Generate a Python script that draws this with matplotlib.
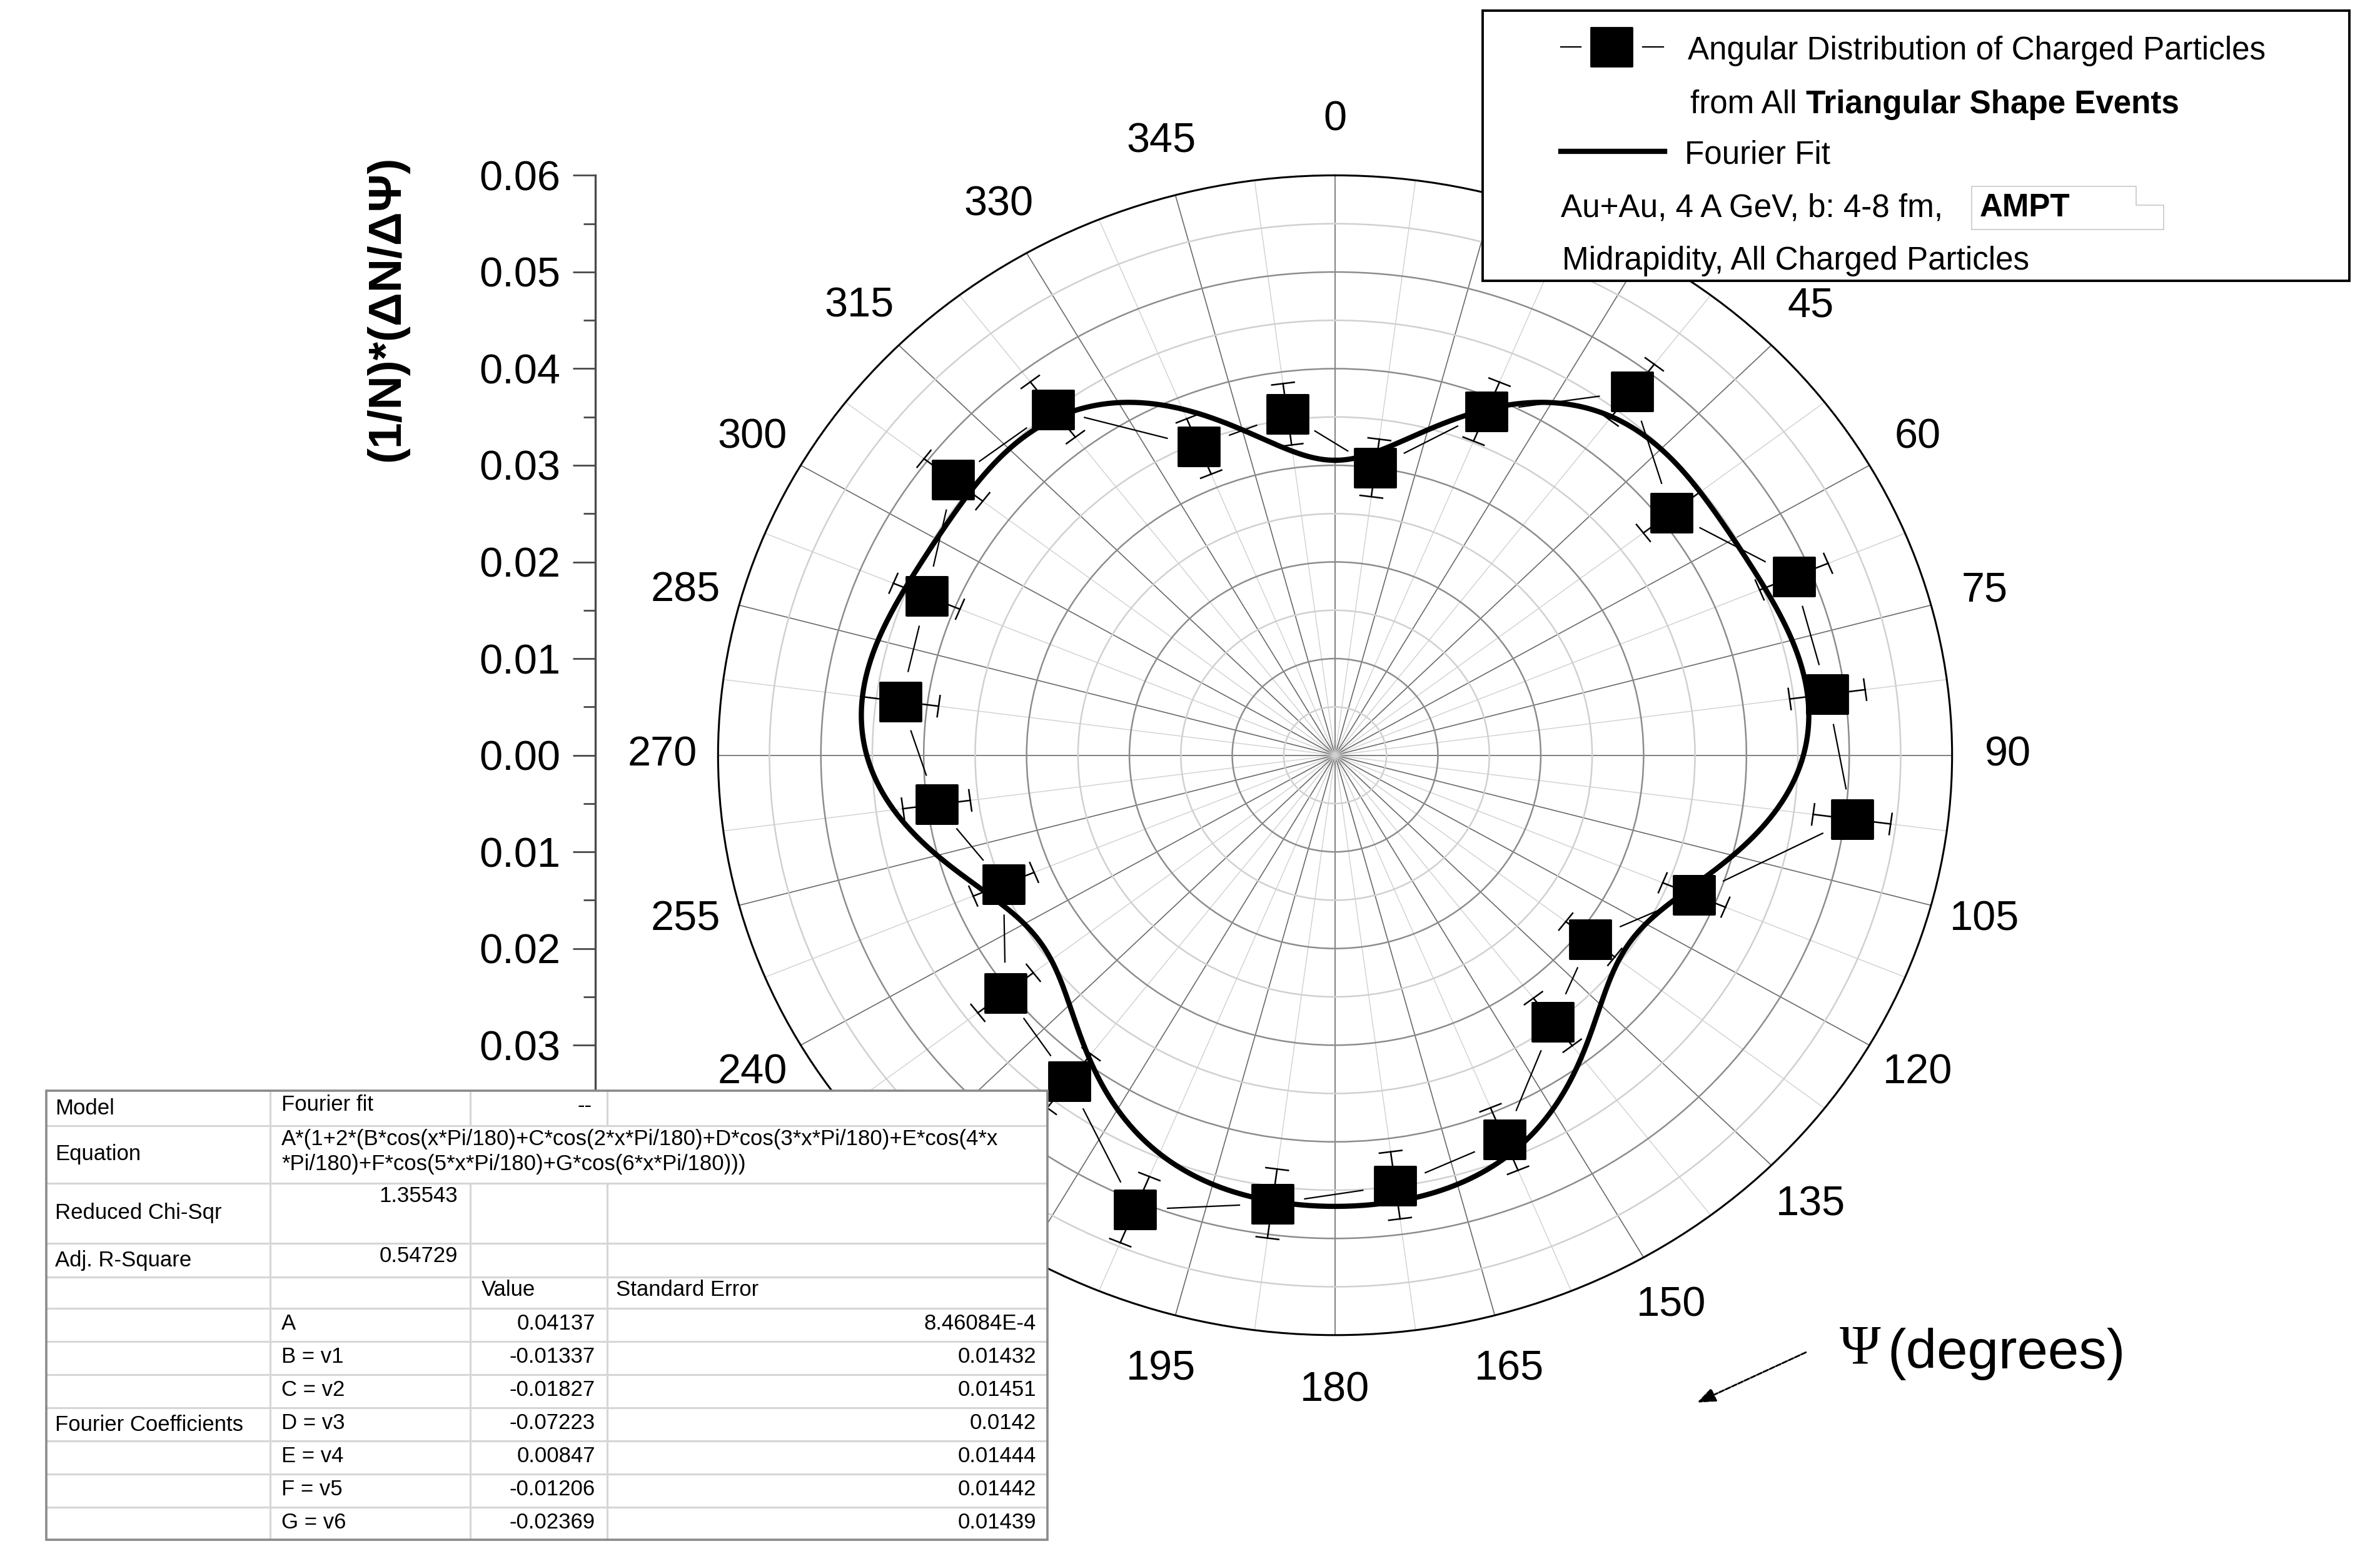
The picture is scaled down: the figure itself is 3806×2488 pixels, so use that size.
import numpy as np
import matplotlib
matplotlib.use("Agg")
import matplotlib.pyplot as plt
from matplotlib.ticker import FixedLocator, FuncFormatter
from matplotlib.path import Path
from matplotlib.patches import Rectangle

plt.rcParams['font.family'] = ['Liberation Sans', 'DejaVu Sans']

# ---------------- data ----------------
psi_deg = [7.5, 22.5, 37.5, 52.5, 67.5, 82.5, 97.5, 112.5, 127.5, 142.5, 157.5, 172.5,
           187.5, 202.5, 217.5, 232.5, 247.5, 262.5, 277.5, 292.5, 307.5, 322.5, 337.5, 352.5]
dist = [0.0300, 0.0385, 0.0474, 0.0412, 0.0483, 0.0483, 0.0507, 0.0378, 0.0313, 0.0348, 0.0430, 0.0449,
        0.0468, 0.0509, 0.0425, 0.0404, 0.0349, 0.0391, 0.0426, 0.0430, 0.0468, 0.0451, 0.0346, 0.0356]
dist_err = [0.0030, 0.0033, 0.0036, 0.0034, 0.0036, 0.0037, 0.0038, 0.0033, 0.0030, 0.0031, 0.0035, 0.0035,
            0.0036, 0.0037, 0.0035, 0.0034, 0.0032, 0.0033, 0.0037, 0.0035, 0.0036, 0.0036, 0.0031, 0.0032]

fit_A = 0.04137
fit_coef = [-0.01337, -0.01827, -0.07223, 0.00847, -0.01206, -0.02369]
fit_names = ['A', 'B = v1', 'C = v2', 'D = v3', 'E = v4', 'F = v5', 'G = v6']
fit_values = ['0.04137', '-0.01337', '-0.01827', '-0.07223', '0.00847', '-0.01206', '-0.02369']
fit_errors = ['8.46084E-4', '0.01432', '0.01451', '0.0142', '0.01444', '0.01442', '0.01439']
chi_sqr = '1.35543'
adj_r2 = '0.54729'

theta_tick_deg = list(range(0, 360, 15))
theta_hidden_deg = [30, 210, 225]      # covered by the legend / fit table in the reference
theta_minor_deg = [a + 7.5 for a in range(0, 360, 15)]
r_major = [0.01, 0.02, 0.03, 0.04, 0.05]
r_minor = [0.005, 0.015, 0.025, 0.035, 0.045, 0.055]
r_max = 0.06
left_major = [0.06, 0.05, 0.04, 0.03, 0.02, 0.01, 0.0, -0.01, -0.02, -0.03]
left_minor = [0.055, 0.045, 0.035, 0.025, 0.015, 0.005, -0.005, -0.015, -0.025, -0.035]
left_min = -0.045

# ---------------- figure ----------------
W, H = 3806, 2488
DPI = 200
fig = plt.figure(figsize=(W / DPI, H / DPI), dpi=DPI)

# polar axes (reference is slightly stretched horizontally)
cx, cy = 2135.0, 1207.6
hw, hh = 986.7, 927.2
ax = fig.add_axes([(cx - hw) / W, (H - cy - hh) / H, 2 * hw / W, 2 * hh / H], projection='polar')
ax.set_theta_zero_location('N')
ax.set_theta_direction(-1)
ax.set_ylim(0, r_max)
ax.set_aspect('auto')

ax.set_xticks(np.deg2rad(theta_tick_deg))
ax.set_xticklabels(['' if a in theta_hidden_deg else str(a) for a in theta_tick_deg], fontsize=24)
ax.xaxis.set_minor_locator(FixedLocator(np.deg2rad(theta_minor_deg)))
ax.set_yticks(r_major)
ax.yaxis.set_minor_locator(FixedLocator(r_minor))
ax.set_yticklabels([])
ax.tick_params(axis='y', which='both', length=0)
ax.tick_params(axis='x', which='major', direction='in', length=14, width=1.0, color='black', pad=25)
ax.tick_params(axis='x', which='minor', direction='in', length=8, width=1.0, color='black')
ax.xaxis.grid(True, which='major', color='#6a6a6a', lw=0.6)
ax.xaxis.grid(True, which='minor', color='#d0d0d0', lw=0.5)
ax.yaxis.grid(True, which='major', color='#8c8c8c', lw=0.9)
ax.yaxis.grid(True, which='minor', color='#d0d0d0', lw=0.9)
ax.spines['polar'].set_color('black')
ax.spines['polar'].set_linewidth(1.1)

th = np.deg2rad(psi_deg)
r = np.array(dist)
e = np.array(dist_err)

# Fourier fit curve (coefficients from the fit table)
tf = np.linspace(0, 2 * np.pi, 1441)
s = np.zeros_like(tf)
for n, c in enumerate(fit_coef, start=1):
    s += c * np.cos(n * tf)
rf = fit_A * (1 + 2 * s)
ax.plot(tf, rf, color='black', lw=3.0, zorder=4, solid_joinstyle='round')

# connecting line with gaps near symbols
gap = 0.0032
xs = r * np.sin(th)
ys = r * np.cos(th)
n_pts = len(th)
for i in range(n_pts):
    j = (i + 1) % n_pts
    dx, dy = xs[j] - xs[i], ys[j] - ys[i]
    d = np.hypot(dx, dy)
    if d <= 2 * gap:
        continue
    x0, y0 = xs[i] + dx * gap / d, ys[i] + dy * gap / d
    x1, y1 = xs[j] - dx * gap / d, ys[j] - dy * gap / d
    ax.plot([np.arctan2(x0, y0), np.arctan2(x1, y1)], [np.hypot(x0, y0), np.hypot(x1, y1)],
            color='black', lw=0.8, zorder=3)

# radial error bars with tangential caps
cap_half = 0.0011
for ti, ri, ei in zip(th, r, e):
    ax.plot([ti, ti], [ri - ei, ri + ei], color='black', lw=0.9, zorder=3)
    for rc in (ri - ei, ri + ei):
        dth = cap_half / rc
        ax.plot([ti - dth, ti + dth], [rc, rc], color='black', lw=0.9, zorder=3)

rect_marker = Path([(-0.54, -0.5), (0.54, -0.5), (0.54, 0.5), (-0.54, 0.5), (-0.54, -0.5)],
                   [Path.MOVETO, Path.LINETO, Path.LINETO, Path.LINETO, Path.CLOSEPOLY])
ax.plot(th, r, linestyle='none', marker=rect_marker, ms=24, color='black', zorder=5)

# ---------------- left linear axis ----------------
ax_bottom_px = cy + hh * (-left_min / r_max)
lax = fig.add_axes([952 / W, (H - ax_bottom_px) / H, 0.0004, (ax_bottom_px - (cy - hh)) / H])
lax.set_ylim(left_min, r_max)
lax.set_xticks([])
for sp in ('right', 'top', 'bottom'):
    lax.spines[sp].set_visible(False)
lax.spines['left'].set_color('#4a4a4a')
lax.spines['left'].set_linewidth(1.2)
lax.yaxis.set_major_locator(FixedLocator(left_major))
lax.yaxis.set_minor_locator(FixedLocator(left_minor))
lax.yaxis.set_major_formatter(FuncFormatter(lambda v, p: f"{abs(v):.2f}"))
lax.tick_params(axis='y', which='major', length=13, width=1.0, color='#4a4a4a', labelsize=24, pad=7)
lax.tick_params(axis='y', which='minor', length=7, width=1.0, color='#4a4a4a')
lax.patch.set_visible(False)

fig.text(619 / W, 1 - 493 / H, '(1/N)*(ΔN/ΔΨ)', rotation=90, ha='center', va='center',
         fontsize=27, fontweight='bold')

# ---------------- overlay (legend, table, annotations) ----------------
ov = fig.add_axes([0, 0, 1, 1], zorder=10)
ov.set_xlim(0, W)
ov.set_ylim(H, 0)
ov.axis('off')
ov.patch.set_visible(False)

# legend box
ov.add_patch(Rectangle((2371, 17), 1386, 432, facecolor='white', edgecolor='black', lw=1.4, zorder=1))
ov.plot([2496, 2528], [75, 75], color='black', lw=0.8, zorder=2)
ov.plot([2627, 2660], [75, 75], color='black', lw=0.8, zorder=2)
ov.plot([2577], [75], marker=rect_marker, ms=24, color='black', linestyle='none', zorder=2)
lfs = 18.4
ov.text(2699, 82, 'Angular Distribution of Charged Particles', fontsize=lfs, va='center', ha='left', zorder=2)
t2 = ov.text(2703, 167, 'from All ', fontsize=lfs, va='center', ha='left', zorder=2)
ov.annotate('Triangular Shape Events', xy=(1, 0), xycoords=t2, fontsize=lfs, fontweight='bold',
            va='bottom', ha='left', zorder=2)
ov.plot([2496, 2662], [242, 242], color='black', lw=3.0, zorder=2)
ov.text(2694, 248, 'Fourier Fit', fontsize=lfs, va='center', ha='left', zorder=2)
ov.text(2496, 333, 'Au+Au, 4 A GeV, b: 4-8 fm,', fontsize=lfs, va='center', ha='left', zorder=2)
ov.plot([3153, 3153, 3416, 3416, 3460, 3460, 3153], [367, 298, 298, 328, 328, 367, 367],
        color='#c8c8c8', lw=0.6, zorder=2)
ov.text(3166, 333, 'AMPT', fontsize=lfs, fontweight='bold', va='center', ha='left', zorder=3)
ov.text(2498, 417, 'Midrapidity, All Charged Particles', fontsize=lfs, va='center', ha='left', zorder=2)

# Psi (degrees) label with arrow
ov.text(2975, 2158, 'Ψ', fontsize=32, family=['Liberation Serif', 'DejaVu Serif'],
        ha='center', va='center', zorder=2)
ov.text(3018, 2165, '(degrees)', fontsize=32, ha='left', va='center', zorder=2)
ov.annotate('', xy=(2709, 2245), xytext=(2893, 2160),
            arrowprops=dict(arrowstyle='-|>,head_length=0.9,head_width=0.35', color='black',
                            lw=1.0, linestyle=(0, (3, 1))), zorder=2)

# fit table
cols = [74, 432, 752, 971, 1675]
rows = [1744, 1800, 1892, 1988, 2042, 2092, 2145, 2198, 2251, 2304, 2357, 2410, 2462]
ov.add_patch(Rectangle((cols[0], rows[0]), cols[-1] - cols[0], rows[-1] - rows[0],
                       facecolor='white', edgecolor='none', zorder=1))
lc = '#d6d6d6'
for y in rows[1:-1]:
    ov.plot([cols[0], cols[-1]], [y, y], color=lc, lw=1.1, zorder=2)
ov.plot([cols[1], cols[1]], [rows[0], rows[-1]], color=lc, lw=1.1, zorder=2)
for xc in (cols[2], cols[3]):
    ov.plot([xc, xc], [rows[0], rows[1]], color=lc, lw=1.1, zorder=2)
    ov.plot([xc, xc], [rows[2], rows[-1]], color=lc, lw=1.1, zorder=2)
ov.add_patch(Rectangle((cols[0], rows[0]), cols[-1] - cols[0], rows[-1] - rows[0],
                       facecolor='none', edgecolor='#8a8a8a', lw=1.3, zorder=3))

tfs = 12.5
c1x = 88
c2x = 450
ov.text(c1x, 1773, 'Model', fontsize=tfs, va='center', zorder=3)
ov.text(c2x, 1766, 'Fourier fit', fontsize=tfs, va='center', zorder=3)
ov.text(935, 1768, '--', fontsize=tfs, va='center', ha='center', zorder=3)
ov.text(c1x, 1846, 'Equation', fontsize=tfs, va='center', zorder=3)
ov.text(c2x, 1822, 'A*(1+2*(B*cos(x*Pi/180)+C*cos(2*x*Pi/180)+D*cos(3*x*Pi/180)+E*cos(4*x',
        fontsize=tfs, va='center', zorder=3)
ov.text(c2x, 1862, '*Pi/180)+F*cos(5*x*Pi/180)+G*cos(6*x*Pi/180)))', fontsize=tfs, va='center', zorder=3)
ov.text(c1x, 1940, 'Reduced Chi-Sqr', fontsize=tfs, va='center', zorder=3)
ov.text(732, 1913, chi_sqr, fontsize=tfs, va='center', ha='right', zorder=3)
ov.text(c1x, 2015, 'Adj. R-Square', fontsize=tfs, va='center', zorder=3)
ov.text(732, 2009, adj_r2, fontsize=tfs, va='center', ha='right', zorder=3)
ov.text(770, 2062, 'Value', fontsize=tfs, va='center', zorder=3)
ov.text(985, 2062, 'Standard Error', fontsize=tfs, va='center', zorder=3)
for k, (nm, vv, ee) in enumerate(zip(fit_names, fit_values, fit_errors)):
    yc = (rows[5 + k] + rows[6 + k]) / 2 - 2
    ov.text(c2x, yc, nm, fontsize=tfs, va='center', zorder=3)
    ov.text(952, yc, vv, fontsize=tfs, va='center', ha='right', zorder=3)
    ov.text(1657, yc, ee, fontsize=tfs, va='center', ha='right', zorder=3)
ov.text(c1x, 2278, 'Fourier Coefficients', fontsize=tfs, va='center', zorder=3)

fig.savefig('out.png', dpi=DPI)
